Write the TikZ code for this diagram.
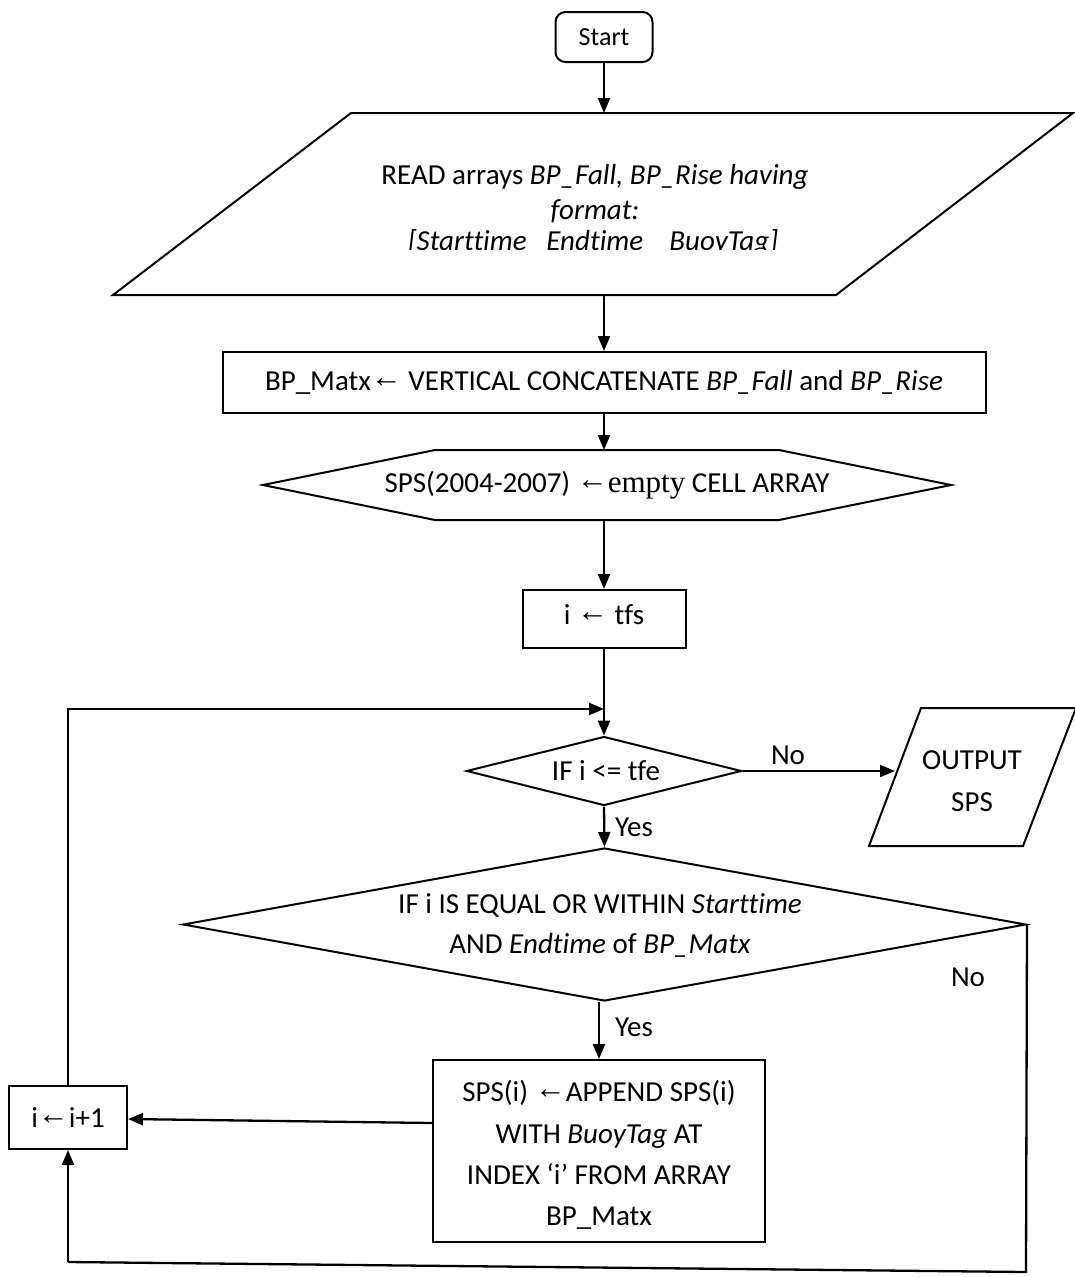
\documentclass[tikz,border=0pt]{standalone}
\usepackage{fontspec}
\setmainfont{Carlito}[Ligatures={NoCommon}]
\newfontfamily\arrowfont{Liberation Serif}
\usetikzlibrary{arrows.meta,shapes.geometric}

% left arrow, lifted to the middle of the capitals
\newcommand{\larr}{\raisebox{3pt}{\arrowfont\fontsize{31}{31}\selectfont ←}}

\begin{document}
\begin{tikzpicture}[x=1pt,y=-1pt,
  font=\fontsize{29}{41}\selectfont,
  outline/.style={draw=black,line width=2pt},
  flow/.style={line width=2.3pt,-{Triangle[length=15pt,width=12pt]}},
  wire/.style={line width=2.3pt},
  boxnode/.style={outline,rectangle,inner sep=0pt,align=center},
  txt/.style={inner sep=0pt,align=center}]

% page
\fill[white] (0,0) rectangle (1074,1277);
\useasboundingbox (0,0) rectangle (1074,1277);

% start terminal
\node[boxnode,rounded corners=10pt,minimum width=97pt,minimum height=50pt,
  font=\fontsize{26}{30}\selectfont] (start) at (604,37) {Start};

% input parallelogram
\draw[outline] (351,113) -- (1073,113) -- (836,295) -- (113,295) -- cycle;
\coordinate (readN) at (604,113);
\coordinate (readS) at (604,295);
\node[txt,font=\fontsize{29}{35}\selectfont] (readA) at (595,194)
  {READ arrays \textit{BP\_Fall, BP\_Rise having}\\ \textit{format:}};
\begin{scope}
  \clip (0,0) rectangle (1074,249);
  \node[txt,anchor=base] (readB) at (593,250)
    {\textit{[Starttime\ \ \ Endtime\ \ \ \ BuoyTag]}};
\end{scope}

% concatenation step
\node[boxnode,minimum width=763pt,minimum height=61pt] (concat) at (604,382.5)
  {BP\_Matx\larr{} VERTICAL CONCATENATE \textit{BP\_Fall} and \textit{BP\_Rise}};

% preparation hexagon
\draw[outline] (263,485) -- (435,450) -- (779,450) -- (951,485) -- (779,520) -- (435,520) -- cycle;
\coordinate (prepN) at (604,450);
\coordinate (prepS) at (604,520);
\node[txt] (prep) at (607,485)
  {SPS(2004-2007) \larr{\arrowfont\fontsize{31}{31}\selectfont empty} CELL ARRAY};

% initialisation
\node[boxnode,minimum width=163pt,minimum height=58pt] (init) at (604,619) {\raisebox{8pt}{i \larr{} tfs}};

% loop test
\node[outline,diamond,minimum width=275pt,minimum height=69pt,inner sep=0pt] (test) at (604,771) {};
\node[txt] (testT) at (606,771) {IF i <= tfe};

% output parallelogram
\draw[outline] (921,708) -- (1076,708) -- (1023,846) -- (869,846) -- cycle;
\coordinate (outW) at (895,771);
\node[txt,font=\fontsize{29}{42}\selectfont] (outT) at (972,781) {OUTPUT\\SPS};

% range test
\node[outline,diamond,minimum width=843pt,minimum height=153pt,inner sep=0pt] (range) at (604.5,924.5) {};
\node[txt,font=\fontsize{29}{40}\selectfont] (rangeT) at (600,925)
  {IF i IS EQUAL OR WITHIN \textit{Starttime}\\ AND \textit{Endtime} of \textit{BP\_Matx}};

% append step
\node[boxnode,minimum width=332pt,minimum height=182pt] (append) at (599,1151) {};
\node[txt,font=\fontsize{29}{41.3}\selectfont] (appendT) at (599,1155)
  {SPS(i) \larr APPEND SPS(i)\\ WITH \textit{BuoyTag} AT\\ INDEX ‘i’ FROM ARRAY\\ BP\_Matx};

% increment
\node[boxnode,minimum width=118pt,minimum height=63pt] (inc) at (68,1117.5) {i\larr i+1};

% corner points of the loop-back paths
\coordinate (merge) at (604,709);
\coordinate (cornerR) at (1026,1272);
\coordinate (cornerL) at (68,1262);

% connectors
\draw[flow] (start.south) -- (readN);
\draw[flow] (readS) -- (concat.north);
\draw[flow] (concat.south) -- (prepN);
\draw[flow] (prepS) -- (init.north);
\draw[flow] (init.south) -- (test.north);
\draw[flow] (inc.north) |- (merge);
\draw[flow] (test.east) -- (outW);
\draw[flow] (test.south) -- (range.north);
\draw[flow] (range.south -| append.north) -- (append.north);
\draw[flow] ([yshift=28pt]append.west) -- ([yshift=-1.5pt]inc.east);
\draw[wire] (range.east) -- (cornerR) -- (cornerL);
\draw[flow] (cornerL) -- (inc.south);

% branch labels
\node[txt] (noA) at (788,755) {No};
\node[txt] (yesA) at (634,827) {Yes};
\node[txt] (noB) at (968,977) {No};
\node[txt] (yesB) at (634,1027) {Yes};
\end{tikzpicture}
\end{document}
